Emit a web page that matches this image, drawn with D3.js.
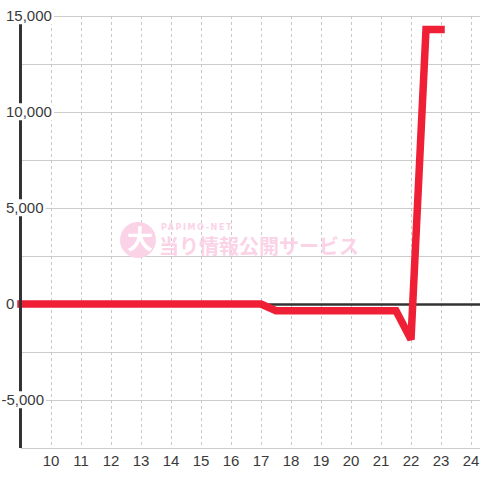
<!DOCTYPE html>
<html><head><meta charset="utf-8">
<script src="https://cdn.jsdelivr.net/npm/d3@7"></script>
<style>body{margin:0;background:#fff}svg{display:block}</style>
</head><body>
<svg id="c" width="480" height="480"></svg>
<script>
const hours = [9, 17, 17.5, 21.5, 22, 22.5, 23];
const values = [0, 0, -350, -350, -1850, 14300, 14300];
const xTicks = [10, 11, 12, 13, 14, 15, 16, 17, 18, 19, 20, 21, 22, 23, 24];
const yGrid = [-7500, -5000, -2500, 0, 2500, 5000, 7500, 10000, 12500, 15000];
const yLabels = [-5000, 0, 5000, 10000, 15000];
const watermarkMain = "当り情報公開サービス";
const watermarkSub = "PAPIMO-NET";

const svg = d3.select("#c");
const x = d3.scaleLinear().domain([9, 24.3]).range([21, 480]);
const y = d3.scaleLinear().domain([-7500, 15000]).range([448, 16]);
const fmt = d3.formatLocale({decimal: ".", thousands: ",", grouping: [3], currency: ["", ""], minus: "-"}).format(",");

// horizontal grid
svg.append("g").selectAll("line").data(yGrid).join("line")
  .attr("x1", x(9)).attr("x2", 480)
  .attr("y1", d => y(d) + 0.5).attr("y2", d => y(d) + 0.5)
  .attr("stroke", "#cccccc").attr("stroke-width", 1);
// vertical dashed grid
svg.append("g").selectAll("line").data(xTicks).join("line")
  .attr("x1", d => Math.round(x(d)) + 0.5).attr("x2", d => Math.round(x(d)) + 0.5)
  .attr("y1", y(15000)).attr("y2", y(-7500))
  .attr("stroke", "#c8c8c8").attr("stroke-width", 1).attr("stroke-dasharray", "3,3");

// watermark
const wm = svg.append("g");
wm.append("circle").attr("cx", 138).attr("cy", 240).attr("r", 18).attr("fill", "#fbd3e7");
wm.append("text").attr("x", 140).attr("y", 249).attr("text-anchor", "middle")
  .attr("font-family", "Noto Sans CJK JP").attr("font-weight", "bold").attr("font-size", 26)
  .attr("fill", "#ffffff").text("大");
wm.append("text").attr("x", 161).attr("y", 230)
  .attr("font-family", "DejaVu Sans").attr("font-weight", "bold").attr("font-size", 8)
  .attr("letter-spacing", 1.6).attr("fill", "#fbd3e7").text(watermarkSub);
wm.append("text").attr("x", 159).attr("y", 254)
  .attr("font-family", "Noto Sans CJK JP").attr("font-weight", "bold").attr("font-size", 20)
  .attr("fill", "#fbd3e7").text(watermarkMain);

// zero line
svg.append("line").attr("x1", x(9)).attr("x2", 480)
  .attr("y1", y(0) + 0.5).attr("y2", y(0) + 0.5)
  .attr("stroke", "#333333").attr("stroke-width", 2.5);

// data line
svg.append("path").datum(hours.map((h, i) => [h, values[i]]))
  .attr("d", d3.line().x(d => x(d[0])).y(d => y(d[1])))
  .attr("fill", "none").attr("stroke", "#ef2035").attr("stroke-width", 7.5)
  .attr("stroke-linecap", "square").attr("stroke-linejoin", "miter")
  .attr("stroke-miterlimit", 2);

// y axis line
svg.append("line").attr("x1", 20.5).attr("x2", 20.5)
  .attr("y1", 24).attr("y2", y(-7500))
  .attr("stroke", "#333333").attr("stroke-width", 3);

// y labels with white background
const yl = svg.append("g").selectAll("g").data(yLabels).join("g");
yl.each(function(d) {
  const g = d3.select(this);
  const t = g.append("text").attr("x", 6).attr("y", y(d)).attr("dy", "0.35em")
    .attr("font-family", "Liberation Sans, Arial, sans-serif").attr("font-size", 15)
    .attr("fill", "#3a3a3a").text(fmt(d));
  if (d < 0) t.attr("x", 6 - 4.5);
  const bb = t.node().getBBox();
  g.insert("rect", "text").attr("x", bb.x - 1).attr("y", bb.y)
    .attr("width", bb.width + 3).attr("height", bb.height).attr("fill", "#fff");
});

// x labels
svg.append("g").selectAll("text").data(xTicks).join("text")
  .attr("x", d => x(d)).attr("y", 461).attr("dy", "0.35em").attr("text-anchor", "middle")
  .attr("font-family", "Liberation Sans, Arial, sans-serif").attr("font-size", 15)
  .attr("fill", "#3a3a3a").text(d => d);
</script>
</body></html>
